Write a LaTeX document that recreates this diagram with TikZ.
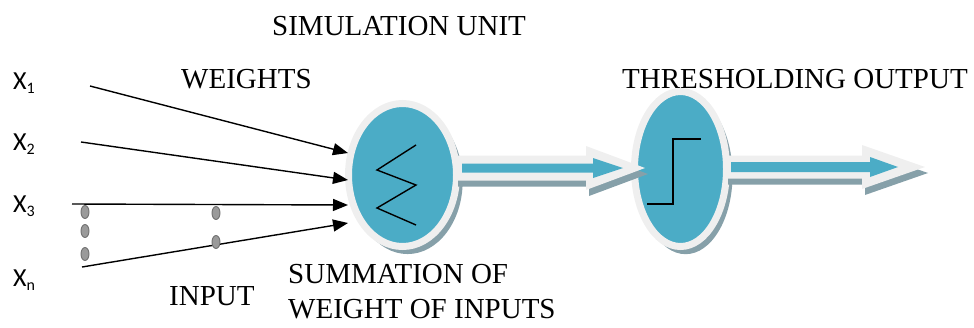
\documentclass[tikz,border=0pt]{standalone}
\usepackage{fontspec}
\setmainfont{Liberation Serif}
\newfontfamily\carlito{Carlito}
\usetikzlibrary{shapes.geometric,arrows.meta,shadows}
\definecolor{teal5}{HTML}{4BACC6}
\definecolor{ringc}{HTML}{EFEFEF}
\definecolor{shadc}{HTML}{86A0A9}
\definecolor{ovalf}{HTML}{9A9A9A}
\definecolor{ovald}{HTML}{6E6E6E}
\tikzset{
 lbl/.style={font=\fontsize{29}{32}\selectfont, inner sep=0pt, anchor=base west},
 xlbl/.style={font=\carlito\fontsize{26}{28}\selectfont, inner sep=0pt, anchor=base west},
 unit/.style={ellipse, draw=ringc, line width=7pt, fill=teal5, inner sep=0pt,
   drop shadow={shadow xshift=5pt, shadow yshift=-6pt, shadow scale=1.02, fill=shadc, opacity=1}},
 wire/.style={line width=1.4pt, -{Triangle[length=15pt,width=12pt]}},
 dotmark/.style={ellipse, draw=ovald, fill=ovalf, line width=0.9pt, minimum width=8pt, minimum height=13pt, inner sep=0pt},
 glyph/.style={line width=1.4pt, line join=miter},
 hollowout/.style={fill=ringc},
 hollowin/.style={fill=teal5},
 hollowshad/.style={fill=shadc},
}
\begin{document}
\begin{tikzpicture}[x=1pt,y=-1pt]
\useasboundingbox (0,0) rectangle (974,327);

% texts
\node[lbl] (sim) at (272,35) {SIMULATION UNIT};
\node[lbl] (wts) at (181,88) {WEIGHTS};
\node[lbl] (thrlbl) at (622,88) {THRESHOLDING OUTPUT};
\node[lbl] (inp) at (169,305) {INPUT};
\node[lbl] (sm1) at (288,283) {SUMMATION OF};
\node[lbl] (sm2) at (288,318) {WEIGHT OF INPUTS};

\node[xlbl] (x1) at (13,89) {X\raisebox{-4pt}{\fontsize{16}{16}\selectfont 1}};
\node[xlbl] (x2) at (13,150) {X\raisebox{-4pt}{\fontsize{16}{16}\selectfont 2}};
\node[xlbl] (x3) at (13,212) {X\raisebox{-4pt}{\fontsize{16}{16}\selectfont 3}};
\node[xlbl] (xn) at (13,286) {X\raisebox{-4pt}{\fontsize{16}{16}\selectfont n}};

% units
\node[unit, minimum width=108pt, minimum height=143pt] (sum) at (402.5,175) {};
\node[unit, minimum width=92pt, minimum height=155pt] (thr) at (680.5,169) {};

% glyphs
\draw[glyph] (416,145) -- (377,170) -- (416,185) -- (377,208) -- (416,225);
\draw[glyph] (647,204) -- (673,204) -- (673,139) -- (701,139);

% input wires
\coordinate (s1) at (90,86);  \coordinate (t1) at (348,153);
\coordinate (s2) at (81,142); \coordinate (t2) at (348,180);
\coordinate (s3) at (72,204); \coordinate (t3) at (348,205);
\coordinate (s4) at (82,267); \coordinate (t4) at (348,223);
\draw[wire] (s1) -- (t1);
\draw[wire] (s2) -- (t2);
\draw[wire] (s3) -- (t3);
\draw[wire] (s4) -- (t4);

% small weight marks
\node[dotmark] (o1) at (85,212) {};
\node[dotmark] (o2) at (85,231) {};
\node[dotmark] (o3) at (85,254) {};
\node[dotmark] (o4) at (216,213) {};
\node[dotmark] (o5) at (216,242) {};

% hollow arrow 1
\fill[hollowshad, shift={(3,6)}] (455,155.5) -- (586,155.5) -- (586,146) -- (645,168) -- (586,190) -- (586,180.5) -- (455,180.5) -- cycle;
\fill[hollowout] (455,155.5) -- (586,155.5) -- (586,146) -- (645,168) -- (586,190) -- (586,180.5) -- (455,180.5) -- cycle;
\fill[hollowin] (462,163.5) -- (593,163.5) -- (593,158) -- (623,168) -- (593,178) -- (593,172.5) -- (462,172.5) -- cycle;

% hollow arrow 2
\fill[hollowshad, shift={(3,6)}] (725,155.5) -- (862,155.5) -- (862,145) -- (925,167) -- (862,189) -- (862,178.5) -- (725,178.5) -- cycle;
\fill[hollowout] (725,155.5) -- (862,155.5) -- (862,145) -- (925,167) -- (862,189) -- (862,178.5) -- (725,178.5) -- cycle;
\fill[hollowin] (731,162) -- (870,162) -- (870,157) -- (898,167) -- (870,177) -- (870,172) -- (731,172) -- cycle;
\end{tikzpicture}
\end{document}
